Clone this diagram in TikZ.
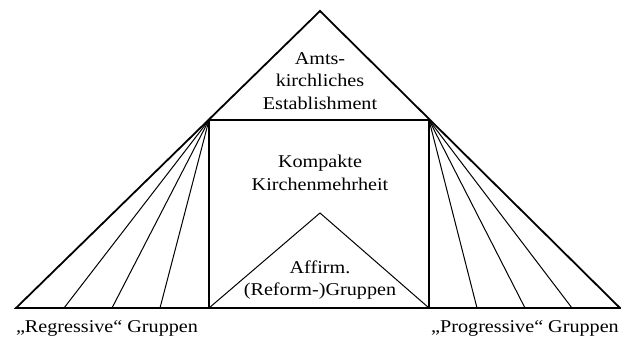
\documentclass[tikz,border=0pt]{standalone}
\usepackage{fontspec}
\setmainfont{Liberation Serif}[FakeStretch=1.12]
\usepackage{tkz-euclide}

\begin{document}
\begin{tikzpicture}[x=1pt,y=1pt,
  lbl/.style={align=center,inner sep=0pt,font=\fontsize{18}{22.5}\selectfont}]
  \useasboundingbox (0,0) rectangle (621,338);
  % 1. the big triangle
  \tkzDefPoint(16,30){A}
  \tkzDefPoint(620,30){B}
  \tkzDefPoint(320,327){C}
  \draw[line width=1.8pt,line join=miter] (A) -- (B) -- (C) -- cycle;
  % 2. the square of the majority
  \tkzDefPoint(209,218){P}
  \tkzDefPoint(429,218){Q}
  \tkzDefPoint(209,30){PP}
  \tkzDefPoint(429,30){QQ}
  \draw[line width=1.3pt] (PP) -- (P) -- (Q) -- (QQ);
  % 3. the small triangle inside
  \tkzDefPoint(320,125){T}
  \draw[line width=1pt] (PP) -- (T) -- (QQ);
  % fans of the groups
  \foreach \x [count=\i] in {64,112,160} {
    \tkzDefPoint(\x,30){L\i}
    \draw[line width=1pt] (P) -- (L\i);
  }
  \foreach \x [count=\i] in {477,525,572} {
    \tkzDefPoint(\x,30){R\i}
    \draw[line width=1pt] (Q) -- (R\i);
  }
  % labels
  \node[lbl] (est) at (320,257) {Amts-\\kirchliches\\Establishment};
  \node[lbl] (mehr) at (320,165) {Kompakte\\Kirchenmehrheit};
  \node[lbl] (aff) at (320,58) {Affirm.\\(Reform-)Gruppen};
  \node[lbl] (reg) at (107,10) {„Regressive“ Gruppen};
  \node[lbl] (prog) at (525,10) {„Progressive“ Gruppen};
\end{tikzpicture}
\end{document}
